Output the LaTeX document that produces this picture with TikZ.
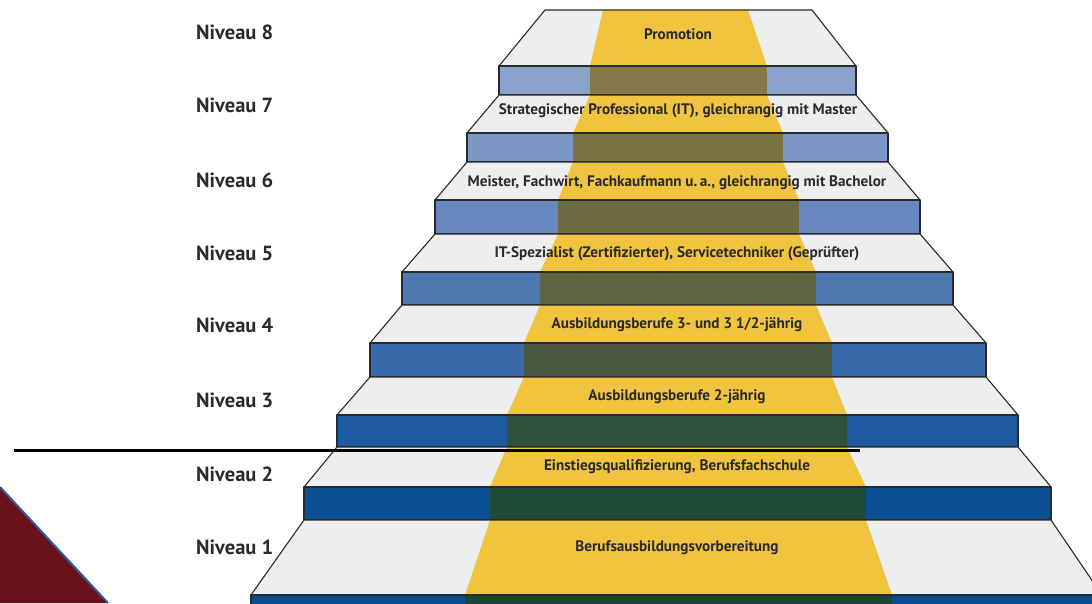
\documentclass[tikz,border=0pt]{standalone}
\usepackage{fontspec}
\setmainfont{PT Sans}
\definecolor{topgray}{HTML}{EDEEF0}
\definecolor{ylw}{HTML}{F0C43E}
\definecolor{edge}{HTML}{2A2A2A}
\definecolor{txt}{HTML}{2A2A2A}
\definecolor{fa}{HTML}{8AA3CC}
\definecolor{fb}{HTML}{7A97C5}
\definecolor{fc}{HTML}{6688BE}
\definecolor{fd}{HTML}{4F78B2}
\definecolor{fe}{HTML}{3A69AA}
\definecolor{ff}{HTML}{1D5A9F}
\definecolor{fg}{HTML}{0D4F95}
\definecolor{fh}{HTML}{0B4A8C}
\definecolor{oa}{HTML}{877849}
\definecolor{ob}{HTML}{7B7246}
\definecolor{oc}{HTML}{6B6A43}
\definecolor{od}{HTML}{5D6441}
\definecolor{oe}{HTML}{4A593D}
\definecolor{of}{HTML}{2F5139}
\definecolor{og}{HTML}{1E4A37}
\definecolor{oh}{HTML}{1B4534}
\definecolor{darkred}{HTML}{6A1219}
\definecolor{trimblue}{HTML}{2D5AA0}
\tikzset{
  steptext/.style={font=\bfseries\fontsize{15.2}{17}\selectfont, text=txt, inner sep=0pt},
  niv/.style={font=\bfseries\fontsize{20.5}{23}\selectfont, text=txt, inner sep=0pt, anchor=west},
  outline/.style={draw=edge, line width=1.1pt, line join=round}
}
\begin{document}
\begin{tikzpicture}[x=1pt,y=-1pt]
\useasboundingbox (0,0) rectangle (1092,603);
\fill[white] (0,0) rectangle (1092,603);
\begin{scope}
\clip (0,0) rectangle (1092,603);
\foreach \yT/\yM/\yB/\TL/\TR/\ML/\MR/\al/\am/\ar/\bm/\fcol/\ocol in {
  10/66/95/545/812/499/856/603/590/748/767/fa/oa,
  95/133/162/499/856/467/888/590/573/767/783/fb/ob,
  162/200/234/467/888/435/920/573/558/783/799/fc/oc,
  234/272/305/435/920/402/953/558/540/799/816/fd/od,
  305/343/377/402/953/370/986/540/524/816/832/fe/oe,
  377/415/447/370/986/337/1018/524/507/832/847/ff/of,
  447/487/520/337/1018/304/1051/507/490/847/866/fg/og,
  520/595/630/304/1051/251/1102/490/465/866/892/fh/oh}{
  % top face
  \fill[topgray] (\TL,\yT) -- (\TR,\yT) -- (\MR,\yM) -- (\ML,\yM) -- cycle;
  \fill[ylw] (\al,\yT) -- (\ar,\yT) -- (\bm,\yM) -- (\am,\yM) -- cycle;
  % front face
  \fill[\fcol] (\ML,\yM) rectangle (\MR,\yB);
  \fill[\ocol] (\am,\yM) rectangle (\bm,\yB);
  \draw[outline] (\TL,\yT) -- (\TR,\yT) -- (\MR,\yM) -- (\ML,\yM) -- cycle;
  \draw[outline] (\ML,\yM) rectangle (\MR,\yB);
}
% bottom-left corner triangle
\fill[darkred] (0,487) -- (108,603) -- (0,603) -- cycle;
\draw[trimblue, line width=2pt] (0,487) -- (108,603);
\end{scope}
% divider line
\coordinate (lineL) at (14,450);
\coordinate (lineR) at (860,450);
\draw[black, line width=3pt] (lineL) -- (lineR);
% step texts
\node[steptext] (t8) at (678,34) {Promotion};
\node[steptext] (t7) at (678,111) {Strategischer Professional (IT), gleichrangig mit Master};
\node[steptext] (t6) at (677,183) {Meister, Fachwirt, Fachkaufmann u.\,a., gleichrangig mit Bachelor};
\node[steptext] (t5) at (677,254) {IT-Spezialist (Zertifizierter), Servicetechniker (Geprüfter)};
\node[steptext] (t4) at (677,325) {Ausbildungsberufe 3- und 3 1/2-jährig};
\node[steptext] (t3) at (677,397) {Ausbildungsberufe 2-jährig};
\node[steptext] (t2) at (677,467) {Einstiegsqualifizierung, Berufsfachschule};
\node[steptext] (t1) at (677,548) {Berufsausbildungsvorbereitung};
% level labels
\node[niv] (n8) at (196,32) {Niveau 8};
\node[niv] (n7) at (196,105) {Niveau 7};
\node[niv] (n6) at (196,180) {Niveau 6};
\node[niv] (n5) at (196,253) {Niveau 5};
\node[niv] (n4) at (196,325) {Niveau 4};
\node[niv] (n3) at (196,400) {Niveau 3};
\node[niv] (n2) at (196,474) {Niveau 2};
\node[niv] (n1) at (196,547) {Niveau 1};
\end{tikzpicture}
\end{document}
